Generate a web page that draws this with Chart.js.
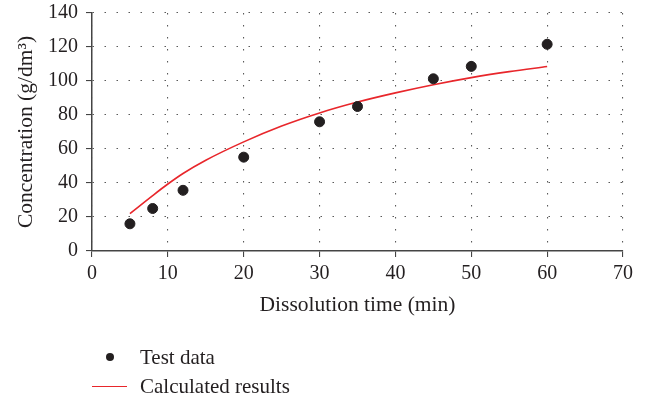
<!DOCTYPE html>
<html>
<head>
<meta charset="utf-8">
<script src="https://cdn.jsdelivr.net/npm/chart.js@4/dist/chart.umd.min.js"></script>
<style>
  html, body { margin: 0; padding: 0; background: #fff; }
  #wrap { position: relative; width: 646px; height: 400px; }
  canvas { position: absolute; left: 0; top: 0; }
  .leg { position: absolute; font-family: "Liberation Serif", serif; font-size: 21px; color: #231f20; line-height: 24px; white-space: nowrap; }
  .sym { position: absolute; }
</style>
</head>
<body>
<div id="wrap">
  <canvas id="c" width="646" height="400"></canvas>
  <div class="sym" style="left:106px;top:353px;width:8px;height:8px;border-radius:50%;background:#231f20;"></div>
  <div class="leg" style="left:140px;top:345px;">Test data</div>
  <div class="sym" style="left:92px;top:386px;width:35px;height:0;border-top:1.5px solid #e8262b;"></div>
  <div class="leg" style="left:140px;top:374px;">Calculated results</div>
</div>
<script>
const testTimes = [5, 8, 12, 20, 30, 35, 45, 50, 60];
const testValues = [16, 25, 35.7, 55.2, 76, 85, 101.3, 108.6, 121.6];
const calcTimes = [5, 8, 10, 12, 15, 20, 25, 30, 35, 40, 45, 50, 55, 60];
const calcValues = [22, 32.6, 39.4, 45.6, 53.4, 64.2, 73.5, 81.2, 87.6, 93, 97.8, 102, 105.5, 108.5];
const xTicks = [0, 10, 20, 30, 40, 50, 60, 70];
const yTicks = [0, 20, 40, 60, 80, 100, 120, 140];

const font = { family: '"Liberation Serif", serif', size: 20 };
const titleFont = { family: '"Liberation Serif", serif', size: 21.5 };
const txt = '#231f20';

new Chart(document.getElementById('c'), {
  type: 'scatter',
  data: {
    datasets: [
      {
        label: 'Calculated results',
        type: 'line',
        data: calcTimes.map((t, i) => ({ x: t, y: calcValues[i] })),
        borderColor: '#e8262b',
        borderWidth: 1.6,
        pointRadius: 0,
        fill: false,
        cubicInterpolationMode: 'monotone',
        order: 2
      },
      {
        label: 'Test data',
        data: testTimes.map((t, i) => ({ x: t, y: testValues[i] })),
        backgroundColor: '#231f20',
        borderColor: '#231f20',
        pointRadius: 5,
        pointHoverRadius: 5,
        order: 1
      }
    ]
  },
  options: {
    responsive: false,
    animation: false,
    layout: { padding: { top: 13, right: 23, bottom: 0, left: 0 } },
    plugins: { legend: { display: false }, tooltip: { enabled: false } },
    scales: {
      x: {
        type: 'linear',
        min: 0, max: 70,
        afterBuildTicks: s => { s.ticks = xTicks.map(v => ({ value: v })); },
        afterFit: s => { s.height = 149; },
        ticks: { font, color: txt, padding: 5, maxRotation: 0 },
        grid: { color: '#5a5a5a', lineWidth: 1.1, drawTicks: true, tickLength: 6, tickColor: '#444', tickBorderDash: [] },
        border: { display: true, color: '#444', width: 1.5, dash: [1.5, 10.5] },
        title: { display: true, text: 'Dissolution time (min)', font: titleFont, color: txt, padding: { top: 0, bottom: 82 } }
      },
      y: {
        type: 'linear',
        min: 0, max: 140,
        afterBuildTicks: s => { s.ticks = yTicks.map(v => ({ value: v })); },
        afterFit: s => { s.width = 92; s.paddingTop = 12; s.paddingBottom = 12; },
        ticks: { font, color: txt, padding: 8 },
        grid: { color: '#5a5a5a', lineWidth: 1.1, drawTicks: true, tickLength: 6, tickColor: '#444', tickBorderDash: [] },
        border: { display: true, color: '#444', width: 1.5, dash: [1.5, 10.5] },
        title: { display: true, text: 'Concentration (g/dm³)', font: titleFont, color: txt, padding: { top: 13, bottom: 0 } }
      }
    }
  }
});
</script>
</body>
</html>
